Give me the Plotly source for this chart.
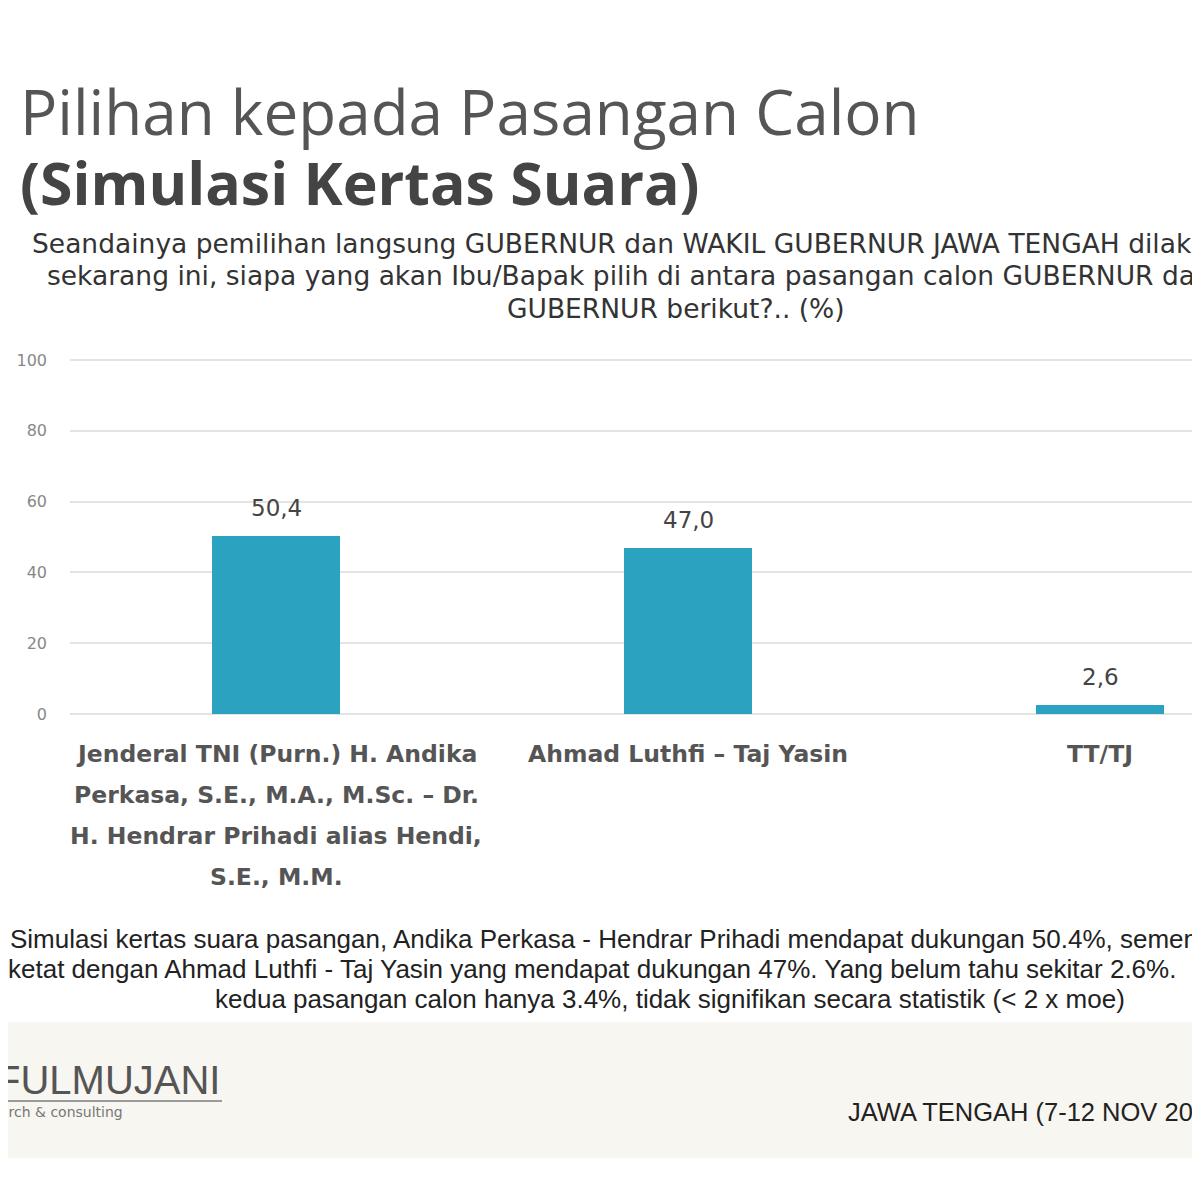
import plotly.graph_objects as go

# ---- data ----
categories = [
    "Jenderal TNI (Purn.) H. Andika<br>Perkasa, S.E., M.A., M.Sc. – Dr.<br>H. Hendrar Prihadi alias Hendi,<br>S.E., M.M.",
    "Ahmad Luthfi – Taj Yasin",
    "TT/TJ",
]
values = [50.4, 47.0, 2.6]
value_labels = ["50,4", "47,0", "2,6"]
y_ticks = [0, 20, 40, 60, 80, 100]

title_1 = "Pilihan kepada Pasangan Calon"
title_2 = "(Simulasi Kertas Suara)"
subtitle_lines = [
    "Seandainya pemilihan langsung GUBERNUR dan WAKIL GUBERNUR JAWA TENGAH dilaksanakan",
    "sekarang ini, siapa yang akan Ibu/Bapak pilih di antara pasangan calon GUBERNUR dan WAKIL",
    "GUBERNUR berikut?.. (%)",
]
note_lines = [
    "Simulasi kertas suara pasangan, Andika Perkasa - Hendrar Prihadi mendapat dukungan 50.4%, sementara",
    "ketat dengan Ahmad Luthfi - Taj Yasin yang mendapat dukungan 47%. Yang belum tahu sekitar 2.6%.",
    "kedua pasangan calon hanya 3.4%, tidak signifikan secara statistik (< 2 x moe)",
]
logo_text = "FULMUJANI"
logo_sub = "arch & consulting"
footer_text = "JAWA TENGAH (7-12 NOV 2024)"

# ---- layout geometry (page pixels; page body has an 8px margin) ----
OFF = 8
W, H = 1200 - OFF, 1200 - OFF
PL, PT, PB = 70 - OFF, 359 - OFF, 714 - OFF  # plot left/top/bottom in figure pixels
PH = PB - PT
PW = W - PL


def py(p):
    return (PB - (p - OFF)) / PH


def px(p):
    return ((p - OFF) - PL) / PW


BAR = "#2ba2c0"
fig = go.Figure()
fig.add_trace(go.Bar(
    x=list(range(len(values))), y=values,
    marker=dict(color=BAR, line=dict(width=0)),
    width=0.31, hoverinfo="skip",
))

ann = []
# value labels
for i, (v, t) in enumerate(zip(values, value_labels)):
    ann.append(dict(x=i, y=v, xref="x", yref="y", text=t, showarrow=False,
                    yanchor="bottom", yshift=13,
                    font=dict(family="DejaVu Sans", size=23, color="#444444")))
# category labels, line by line
for i, c in enumerate(categories):
    for j, line in enumerate(c.split("<br>")):
        ann.append(dict(x=i, y=0, xref="x", yref="paper", text=line, showarrow=False,
                        yanchor="middle", yshift=-(40 + 41 * j),
                        font=dict(family="DejaVu Sans", size=23.5, color="#555555",
                                  weight="bold")))
# two-line title in one annotation
title_html = ("<span style='font-size:62px;color:#555555'>" + title_1 + "</span><br>"
              "<b><span style='font-size:59px;color:#444444'>" + title_2 + "</span></b>")
ann.append(dict(x=px(18), y=py(146), xref="paper", yref="paper", text=title_html,
                showarrow=False, xanchor="left", yanchor="middle", align="left",
                font=dict(family="Open Sans", size=54, color="#555555")))
for x0, yc, t in zip([30, 45, 505], [243, 275, 308], subtitle_lines):
    ann.append(dict(x=px(x0), y=py(yc), xref="paper", yref="paper", text=t,
                    showarrow=False, xanchor="left", yanchor="middle",
                    font=dict(family="DejaVu Sans", size=26.5, color="#333333")))
for x0, yc, t in zip([8, 6, 213], [939, 969, 999], note_lines):
    ann.append(dict(x=px(x0), y=py(yc), xref="paper", yref="paper", text=t,
                    showarrow=False, xanchor="left", yanchor="middle",
                    font=dict(family="Liberation Sans", size=26, color="#222222")))
# logo & footer
ann.append(dict(x=px(-6), y=py(1080), xref="paper", yref="paper", text=logo_text,
                showarrow=False, xanchor="left", yanchor="middle",
                font=dict(family="Liberation Sans", size=40, color="#555555")))
ann.append(dict(x=px(-2), y=py(1112), xref="paper", yref="paper", text=logo_sub,
                showarrow=False, xanchor="left", yanchor="middle",
                font=dict(family="DejaVu Sans", size=14, color="#777777")))
ann.append(dict(x=px(846), y=py(1112), xref="paper", yref="paper", text=footer_text,
                showarrow=False, xanchor="left", yanchor="middle",
                font=dict(family="Liberation Sans", size=25.5, color="#222222")))

shapes = [
    dict(type="rect", xref="paper", yref="paper", x0=px(0), x1=px(1210), y0=py(1158), y1=py(1022),
         fillcolor="#f8f6f1", line=dict(width=0), layer="below"),
    dict(type="line", xref="paper", yref="paper", x0=px(0), x1=px(222), y0=py(1101), y1=py(1101),
         line=dict(color="#9a9a9a", width=2)),
]

fig.update_layout(
    width=W, height=H,
    margin=dict(l=PL, r=0, t=PT, b=H - PB, pad=0),
    paper_bgcolor="white", plot_bgcolor="white",
    showlegend=False,
    bargap=0,
    annotations=ann, shapes=shapes,
    xaxis=dict(range=[-0.5, -0.5 + PW / 412], showticklabels=False, showgrid=False,
               zeroline=False, showline=False, fixedrange=True),
    yaxis=dict(range=[0, 100.3], tickvals=y_ticks, showgrid=True, gridcolor="#e4e4e4",
               gridwidth=2, zeroline=True, zerolinecolor="#e4e4e4", zerolinewidth=2,
               showline=False, ticklabelstandoff=22, fixedrange=True,
               tickfont=dict(family="DejaVu Sans", size=16, color="#888888")),
)

fig.write_html("out.html")
